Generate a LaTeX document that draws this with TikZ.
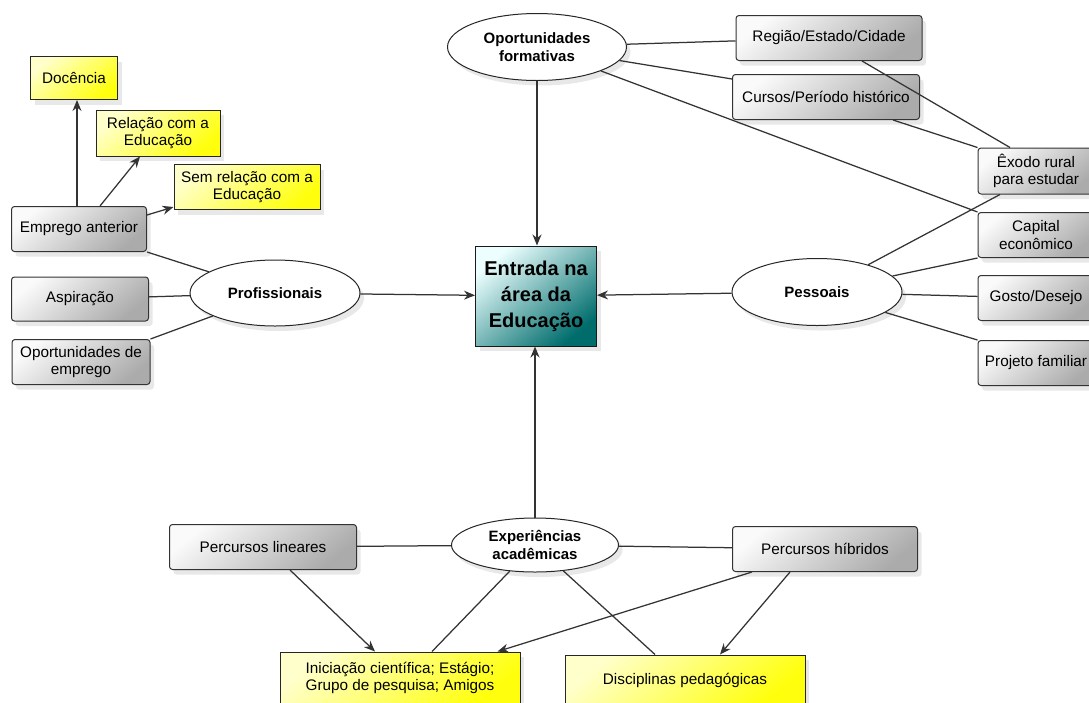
\documentclass[tikz,border=0pt]{standalone}
\usepackage{fontspec}
\setmainfont{Liberation Sans}
\usetikzlibrary{shapes.geometric,arrows.meta,shadows}
\begin{document}
\begin{tikzpicture}[x=1pt,y=-1pt,
  shade/.style={drop shadow={opacity=0.18,shadow xshift=4pt,shadow yshift=-5pt}},
  greybox/.style={draw=black!80,line width=1pt,rounded corners=3pt,shade,
    shading=axis,top color=gray!4,bottom color=gray!66,shading angle=40,
    align=center,font=\fontsize{15.3}{17.5}\selectfont,inner sep=1pt},
  yellowbox/.style={draw=black!85,line width=1pt,shade,
    shading=axis,top color=yellow!20,bottom color=yellow!95,shading angle=40,
    align=center,font=\fontsize{15.3}{17.5}\selectfont,inner sep=1pt},
  hub/.style={ellipse,draw=black!85,line width=1pt,fill=white,shade,
    align=center,font=\bfseries\fontsize{15}{18}\selectfont,inner sep=0pt},
  link/.style={draw=black!80,line width=1.25pt},
  arr/.style={link,-{Stealth[length=11pt,width=9pt]}}]
\useasboundingbox (0,0) rectangle (1089,702);

% central node
\node[draw=black!90,line width=1pt,shade,shading=axis,top color=gray!10!cyan!8,
  bottom color=teal!85!black,shading angle=40,minimum width=121pt,minimum height=100pt,
  align=center,font=\bfseries\fontsize{20}{26}\selectfont] (ent) at (536,296)
  {Entrada na\\área da\\Educação};

% hubs
\node[hub,minimum width=170pt,minimum height=66pt] (prof) at (275,293) {Profissionais};
\node[hub,minimum width=179pt,minimum height=67pt] (of) at (537,47) {Oportunidades\\formativas};
\node[hub,minimum width=170pt,minimum height=67pt] (pes) at (817,292) {Pessoais};
\node[hub,minimum width=167pt,minimum height=54pt] (exp) at (535,545) {Experiências\\acadêmicas};

% professional branch
\node[yellowbox,minimum width=87pt,minimum height=43pt] (doc) at (74,78) {Docência};
\node[yellowbox,minimum width=124pt,minimum height=46pt] (rel) at (158,133) {Relação com a\\Educação};
\node[yellowbox,minimum width=146pt,minimum height=45pt] (sem) at (247,187) {Sem relação com a\\Educação};
\node[greybox,minimum width=135pt,minimum height=45pt] (emp) at (79,229) {Emprego anterior};
\node[greybox,minimum width=137pt,minimum height=44pt] (asp) at (80,299) {Aspiração};
\node[greybox,minimum width=138pt,minimum height=45pt] (opp) at (81,362) {Oportunidades de\\emprego};

% formative branch
\node[greybox,minimum width=186pt,minimum height=45pt] (reg) at (829,38) {Região/Estado/Cidade};
\node[greybox,minimum width=187pt,minimum height=45pt] (cur) at (826,97) {Cursos/Período histórico};

% personal branch
\node[greybox,minimum width=116pt,minimum height=46pt] (exo) at (1036,171) {Êxodo rural\\para estudar};
\node[greybox,minimum width=116pt,minimum height=45pt] (cap) at (1036,235) {Capital\\econômico};
\node[greybox,minimum width=116pt,minimum height=45pt] (gos) at (1036,298) {Gosto/Desejo};
\node[greybox,minimum width=116pt,minimum height=45pt] (prj) at (1036,363) {Projeto familiar};

% academic branch
\node[greybox,minimum width=187pt,minimum height=45pt] (lin) at (263,547) {Percursos lineares};
\node[greybox,minimum width=185pt,minimum height=45pt] (hib) at (825,549) {Percursos híbridos};
\node[yellowbox,minimum width=240pt,minimum height=52pt] (ini) at (400,678) {Iniciação científica; Estágio;\\Grupo de pesquisa; Amigos};
\node[yellowbox,minimum width=240pt,minimum height=50pt] (dis) at (685,680) {Disciplinas pedagógicas};

% connectors into the centre
\draw[arr] (prof) -- (ent);
\draw[arr] (pes) -- (ent);
\draw[arr] (of) -- (of |- ent.north);
\draw[arr] (exp) -- (exp |- ent.south);

% professional links
\draw[arr] ([xshift=3pt]emp.north -| doc.south) -- ([xshift=3pt]doc.south);
\draw[arr] ([xshift=21pt]emp.north) -- ([xshift=-18pt]rel.south);
\draw[arr] ([yshift=14pt]emp.east) -- ([yshift=3pt]sem.south west);
\draw[link] (emp.south east) -- (prof);
\draw[link] (asp) -- (prof);
\draw[link] (opp.north east) -- (prof);

% formative links
\draw[link] (of) -- (reg);
\draw[link] (of) -- ([yshift=-5pt]cur.north west);
\draw[link] (of) -- (cap.north west);
\draw[link] ([xshift=33pt]reg.south) -- ([xshift=-26pt]exo.north);
\draw[link] ([xshift=-27pt]cur.south east) -- (exo.north west);

% personal links
\draw[link] (pes) -- ([xshift=-36pt]exo.south);
\draw[link] (pes) -- (cap.south west);
\draw[link] (pes) -- (gos);
\draw[link] (pes) -- (prj.north west);

% academic links
\draw[link] (exp) -- (lin);
\draw[link] (exp) -- (hib);
\draw[arr] ([xshift=27pt]lin.south) -- ([xshift=-25pt]ini.north);
\draw[link] (exp) -- ([xshift=32pt]ini.north);
\draw[link] (exp) -- ([xshift=-30pt]dis.north);
\draw[arr] ([xshift=-73pt]hib.south) -- ([xshift=-23pt]ini.north east);
\draw[arr] ([xshift=-35pt]hib.south) -- ([xshift=35pt]dis.north);
\end{tikzpicture}
\end{document}
